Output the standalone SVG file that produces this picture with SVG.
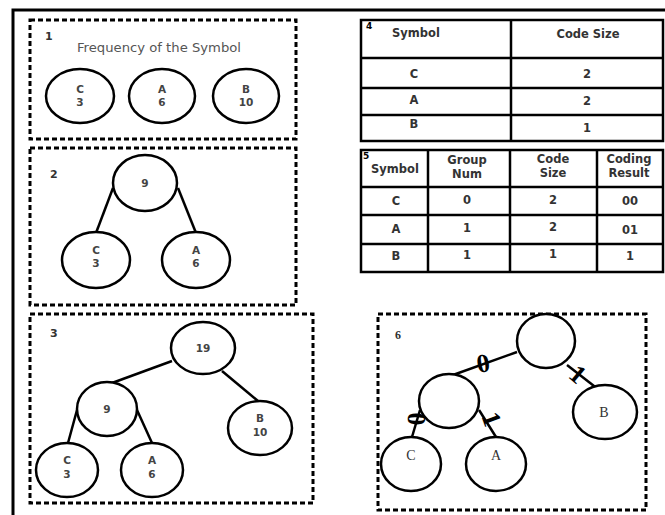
<svg xmlns="http://www.w3.org/2000/svg" width="665" height="515" viewBox="0 0 665 515">
<style>
.frame{fill:none;stroke:#000;stroke-width:3}
.box{fill:none;stroke:#000;stroke-width:3;stroke-dasharray:5,3}
.nd{fill:#fff;stroke:#000;stroke-width:2.5}
.edge{stroke:#000;stroke-width:2.5;fill:none}
.tl{fill:none;stroke:#000;stroke-width:2.5}
.t{font-family:"DejaVu Sans",Verdana,sans-serif;font-size:10.5px;font-weight:bold;fill:#444;text-anchor:middle}
.tb{font-family:"DejaVu Sans",Verdana,sans-serif;font-size:11.5px;font-weight:bold;fill:#333;text-anchor:middle}
.lbl{font-family:"DejaVu Sans",Verdana,sans-serif;font-size:11px;font-weight:bold;fill:#333}
.sm{font-family:"DejaVu Sans",Verdana,sans-serif;font-size:9px;font-weight:bold;fill:#000}
.bit{font-family:"Liberation Serif","Times New Roman",serif;font-size:26px;font-weight:bold;fill:#000;text-anchor:middle}
.tn{font-family:"Liberation Serif","Times New Roman",serif;font-size:14px;fill:#333;text-anchor:middle}
</style>
<rect width="665" height="515" fill="#fff"/>
<path class="frame" d="M13,515 V10 H665"/>

<g id="box1">
<rect class="box" x="30" y="20" width="266" height="119"/>
<text class="lbl" x="45" y="40">1</text>
<text x="159" y="52" textLength="164" lengthAdjust="spacingAndGlyphs" style="font-family:'DejaVu Sans',Verdana,sans-serif;font-size:12.5px;fill:#555;text-anchor:middle">Frequency of the Symbol</text>
</g>
<g id="b1-C"><ellipse class="nd" cx="80" cy="96" rx="34" ry="27"/><text class="t" x="80" y="93">C</text><text class="t" x="80" y="106">3</text></g>
<g id="b1-A"><ellipse class="nd" cx="162" cy="96" rx="33" ry="27"/><text class="t" x="162" y="93">A</text><text class="t" x="162" y="106">6</text></g>
<g id="b1-B"><ellipse class="nd" cx="246" cy="96" rx="33" ry="27"/><text class="t" x="246" y="93">B</text><text class="t" x="246" y="106">10</text></g>

<g id="box2">
<rect class="box" x="30" y="148" width="266" height="157"/>
<text class="lbl" x="50" y="178">2</text>
</g>
<g id="box3">
<rect class="box" x="30" y="314" width="283" height="189"/>
<text class="lbl" x="50" y="337">3</text>
</g>
<g id="box6">
<rect class="box" x="378" y="314" width="268" height="196"/>
<text class="tn" x="398" y="339" style="font-weight:bold;font-size:12px">6</text>
</g>

<g id="connectors">
<line class="edge" x1="113" y1="188" x2="96" y2="233"/>
<line class="edge" x1="178" y1="188" x2="196" y2="233"/>
<line class="edge" x1="172" y1="361" x2="112" y2="383"/>
<line class="edge" x1="222" y1="371" x2="258" y2="401"/>
<line class="edge" x1="77" y1="410" x2="68" y2="443"/>
<line class="edge" x1="137" y1="410" x2="152" y2="443"/>
<line class="edge" x1="517" y1="352" x2="453" y2="375"/>
<line class="edge" x1="567" y1="365" x2="603" y2="393"/>
<line class="edge" x1="420" y1="410" x2="412" y2="437"/>
<line class="edge" x1="479" y1="410" x2="496" y2="437"/>
<text class="bit" x="0" y="9" transform="translate(483,363) rotate(-10)">0</text>
<text class="bit" x="0" y="9" transform="translate(578,374) rotate(40)">1</text>
<text class="bit" x="0" y="9" transform="translate(416,419) rotate(-88)">0</text>
<text class="bit" x="0" y="9" transform="translate(492,419) rotate(70)">1</text>
</g>

<g id="b2-9"><ellipse class="nd" cx="145" cy="183" rx="32" ry="28"/><text class="t" x="145" y="187">9</text></g>
<g id="b2-C"><ellipse class="nd" cx="96" cy="260" rx="34" ry="28"/><text class="t" x="96" y="254">C</text><text class="t" x="96" y="267">3</text></g>
<g id="b2-A"><ellipse class="nd" cx="196" cy="260" rx="34" ry="28"/><text class="t" x="196" y="254">A</text><text class="t" x="196" y="267">6</text></g>

<g id="b3-19"><ellipse class="nd" cx="203" cy="348" rx="32" ry="26"/><text class="t" x="203" y="352">19</text></g>
<g id="b3-9"><ellipse class="nd" cx="107" cy="409" rx="30" ry="27"/><text class="t" x="107" y="413">9</text></g>
<g id="b3-B"><ellipse class="nd" cx="260" cy="428" rx="32" ry="27"/><text class="t" x="260" y="422">B</text><text class="t" x="260" y="436">10</text></g>
<g id="b3-C"><ellipse class="nd" cx="67" cy="470" rx="31" ry="27"/><text class="t" x="67" y="464">C</text><text class="t" x="67" y="478">3</text></g>
<g id="b3-A"><ellipse class="nd" cx="152" cy="470" rx="31" ry="27"/><text class="t" x="152" y="464">A</text><text class="t" x="152" y="478">6</text></g>

<g id="b6-root"><ellipse class="nd" cx="546" cy="341" rx="29" ry="27"/></g>
<g id="b6-mid"><ellipse class="nd" cx="449" cy="401" rx="30" ry="27"/></g>
<g id="b6-B"><ellipse class="nd" cx="605" cy="412" rx="32" ry="27"/><text class="tn" x="604" y="417">B</text></g>
<g id="b6-C"><ellipse class="nd" cx="411" cy="464" rx="30" ry="27"/><text class="tn" x="411" y="460">C</text></g>
<g id="b6-A"><ellipse class="nd" cx="496" cy="464" rx="30" ry="27"/><text class="tn" x="496" y="460">A</text></g>

<g id="table4">
<rect class="tl" x="361" y="20" width="302" height="121"/>
<line class="tl" x1="511" y1="20" x2="511" y2="141"/>
<line class="tl" x1="361" y1="58" x2="663" y2="58"/>
<line class="tl" x1="361" y1="88" x2="663" y2="88"/>
<line class="tl" x1="361" y1="115" x2="663" y2="115"/>
<text class="sm" x="366" y="29">4</text>
<text class="tb" x="416" y="37">Symbol</text>
<text class="tb" x="588" y="38">Code Size</text>
<text class="tb" x="414" y="78">C</text><text class="tb" x="587" y="78">2</text>
<text class="tb" x="414" y="104">A</text><text class="tb" x="587" y="105">2</text>
<text class="tb" x="414" y="128">B</text><text class="tb" x="587" y="132">1</text>
</g>

<g id="table5">
<rect class="tl" x="361" y="150" width="302" height="122"/>
<line class="tl" x1="428" y1="150" x2="428" y2="272"/>
<line class="tl" x1="510" y1="150" x2="510" y2="272"/>
<line class="tl" x1="597" y1="150" x2="597" y2="272"/>
<line class="tl" x1="361" y1="187" x2="663" y2="187"/>
<line class="tl" x1="361" y1="215" x2="663" y2="215"/>
<line class="tl" x1="361" y1="244" x2="663" y2="244"/>
<text class="sm" x="363" y="159">5</text>
<text class="tb" x="395" y="173">Symbol</text>
<text class="tb" x="467" y="164">Group</text><text class="tb" x="467" y="178">Num</text>
<text class="tb" x="553" y="163">Code</text><text class="tb" x="553" y="177">Size</text>
<text class="tb" x="629" y="163">Coding</text><text class="tb" x="629" y="177">Result</text>
<text class="tb" x="396" y="205">C</text><text class="tb" x="467" y="204">0</text><text class="tb" x="553" y="204">2</text><text class="tb" x="630" y="205">00</text>
<text class="tb" x="396" y="233">A</text><text class="tb" x="467" y="232">1</text><text class="tb" x="553" y="231">2</text><text class="tb" x="630" y="234">01</text>
<text class="tb" x="396" y="260">B</text><text class="tb" x="467" y="259">1</text><text class="tb" x="553" y="258">1</text><text class="tb" x="630" y="260">1</text>
</g>
</svg>
